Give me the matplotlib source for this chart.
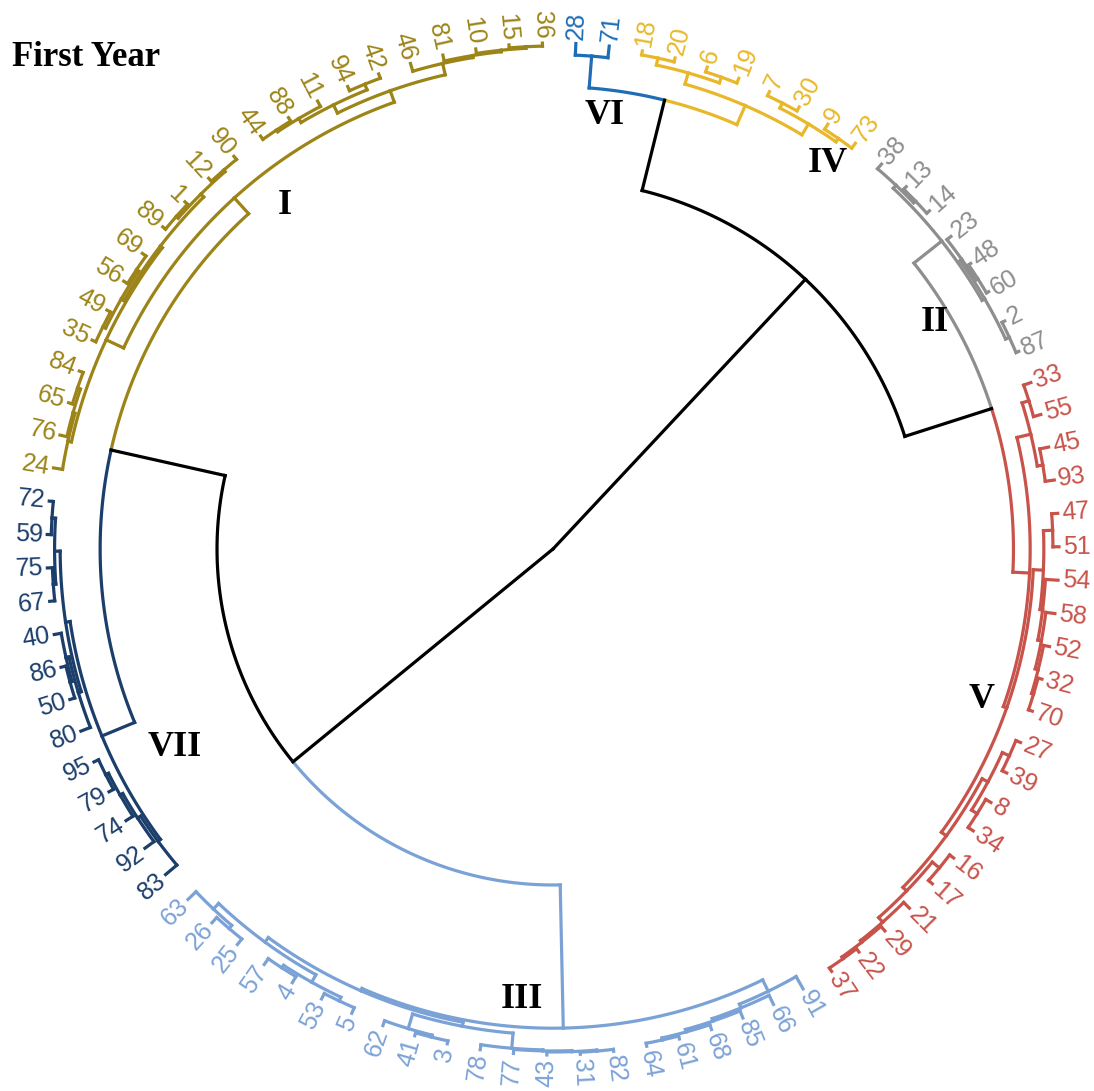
import numpy as np
import matplotlib.pyplot as plt

# leaf order, counter-clockwise starting at the top (leaf 36)
leaf_order = [36, 15, 10, 81, 46, 42, 94, 11, 88, 44, 90, 12, 1, 89, 69, 56, 49, 35, 84, 65, 76, 24,
              72, 59, 75, 67, 40, 86, 50, 80, 95, 79, 74, 92, 83,
              63, 26, 25, 57, 4, 53, 5, 62, 41, 3, 78, 77, 43, 31, 82, 64, 61, 68, 85, 66, 91,
              37, 22, 29, 21, 17, 16, 34, 8, 39, 27, 70, 32, 52, 58, 54, 51, 47, 93, 45, 55, 33,
              87, 2, 60, 48, 23, 14, 13, 38,
              73, 9, 30, 7, 19, 6, 20, 18,
              71, 28]

# clusters as (height, left, right); height in % of the radius (leaves = 0, root = 100)
tree_I = (6.3,
          (2.5, (1.8, 24, (1.4, 76, (0.8, 65, 84))),
                (2.0, (1.4, (0.8, 35, 49), (0.9, 56, 69)), (1.2, (0.7, 89, 1), (0.8, 12, 90)))),
          (3.9, (2.1, (1.2, (0.8, 44, 88), 11), (0.9, 94, 42)),
                (1.6, 46, (1.2, 81, (0.9, 10, (0.6, 15, 36))))))
tree_VII = (3.5,
            (2.6, (1.5, (0.8, 72, 59), (1.0, 75, 67)), (2.0, (1.4, 40, (1.0, 86, 50)), 80)),
            (2.9, (2.2, (1.6, (1.0, 95, 79), 74), 92), 83))
tree_III = (5.3,
            (4.8, (4.0, (1.0, 62, (0.6, 41, 3)), (1.0, 78, (0.8, 77, (0.6, 43, (0.4, 31, 82))))),
                  (3.7, (2.0, (1.2, 5, 53), (1.4, 4, 57)), (2.2, (1.4, 25, 26), 63))),
            (2.8, (2.0, (1.5, (1.0, (0.6, 64, 61), 68), 85), 66), 91))
tree_V = (5.7,
          (2.9, (1.5, 33, 55), (1.8, 45, 93)),
          (5.0, (3.0, (1.2, 47, 51), (2.5, 54, (1.8, 58, (1.2, 52, (0.8, 32, 70))))),
                (3.8, (2.5, (1.0, 27, 39), (1.2, 8, 34)),
                      (2.8, (1.0, 16, 17), (1.6, 21, (1.2, 29, (0.8, 22, 37)))))))
tree_II = (2.0, (1.2, 38, (0.7, 13, 14)), (1.4, (1.0, 23, (0.5, 48, 60)), (0.6, 2, 87)))
tree_IV = (4.5, (2.2, (0.8, 18, 20), (1.0, 6, 19)), (2.0, (0.9, 7, 30), (1.2, 9, 73)))
tree_VI = (2.3, 28, 71)

cluster_names = ['I', 'II', 'III', 'IV', 'V', 'VI', 'VII']
cluster_trees = [tree_I, tree_II, tree_III, tree_IV, tree_V, tree_VI, tree_VII]
cluster_colors = ['#9c8418', '#8e8e8e', '#7ba2d6', '#e8b82a', '#c8534b', '#1f6db4', '#1b3e6b']

# upper levels
node_I_VII = (10.5, tree_I, tree_VII)
node_A = (33.6, node_I_VII, tree_III)
node_VI_IV = (8.6, tree_VI, tree_IV)
node_II_V = (9.0, tree_II, tree_V)
node_B = (27.0, node_VI_IV, node_II_V)
root = (100.0, node_A, node_B)


def leaves_of(node):
    if isinstance(node, int):
        return [node]
    return leaves_of(node[1]) + leaves_of(node[2])


leaf_color = {}
for tree, col in zip(cluster_trees, cluster_colors):
    for lf in leaves_of(tree):
        leaf_color[lf] = col

step = 2 * np.pi / len(leaf_order)
theta0 = np.deg2rad(91.2)
leaf_theta = {lf: theta0 + i * step for i, lf in enumerate(leaf_order)}

W, H = 1094, 1091
fig = plt.figure(figsize=(W / 100, H / 100), dpi=100)
cx, cy, R = 553, 549, 506
rad = 560
ax = fig.add_axes([(cx - rad) / W, (H - cy - rad) / H, 2 * rad / W, 2 * rad / H], projection='polar')
ax.set_rlim(0, rad / R)
ax.set_axis_off()

LW = 2.3


def draw(node):
    if isinstance(node, int):
        return leaf_theta[node], 1.0, leaf_color[node]
    h, a, b = node
    ta, ra, ca = draw(a)
    tb, rb, cb = draw(b)
    r = 1 - h / 100
    t = (ta + tb) / 2
    for tc, rc, cc in ((ta, ra, ca), (tb, rb, cb)):
        ax.plot([tc, tc], [rc, r], color=cc, lw=LW)
        arc = np.linspace(tc, t, 60)
        ax.plot(arc, np.full_like(arc, r), color=cc, lw=LW)
    return t, r, (ca if ca == cb else 'black')


draw(root)

# leaf labels
for lf in leaf_order:
    th = leaf_theta[lf]
    deg = np.rad2deg(th) % 360
    if 90 < deg < 270:
        rot, ha = deg + 180, 'right'
    else:
        rot, ha = deg, 'left'
    ax.text(th, 1.008, str(lf), rotation=rot, rotation_mode='anchor', ha=ha, va='center',
            color=leaf_color[lf], fontsize=18, family='Liberation Sans')


def px(x, y):
    return x / W, 1 - y / H


label_pos = {'I': (285, 205), 'II': (935, 323), 'III': (522, 1000), 'IV': (828, 163),
             'V': (982, 700), 'VI': (605, 115), 'VII': (175, 748)}
for name in cluster_names:
    fig.text(*px(*label_pos[name]), name, ha='center', va='center', fontsize=26,
             fontweight='bold', family='Liberation Serif')

fig.text(*px(12, 57), 'First Year', ha='left', va='center', fontsize=25,
         fontweight='bold', family='Liberation Serif')

fig.savefig('out.png', dpi=100)
